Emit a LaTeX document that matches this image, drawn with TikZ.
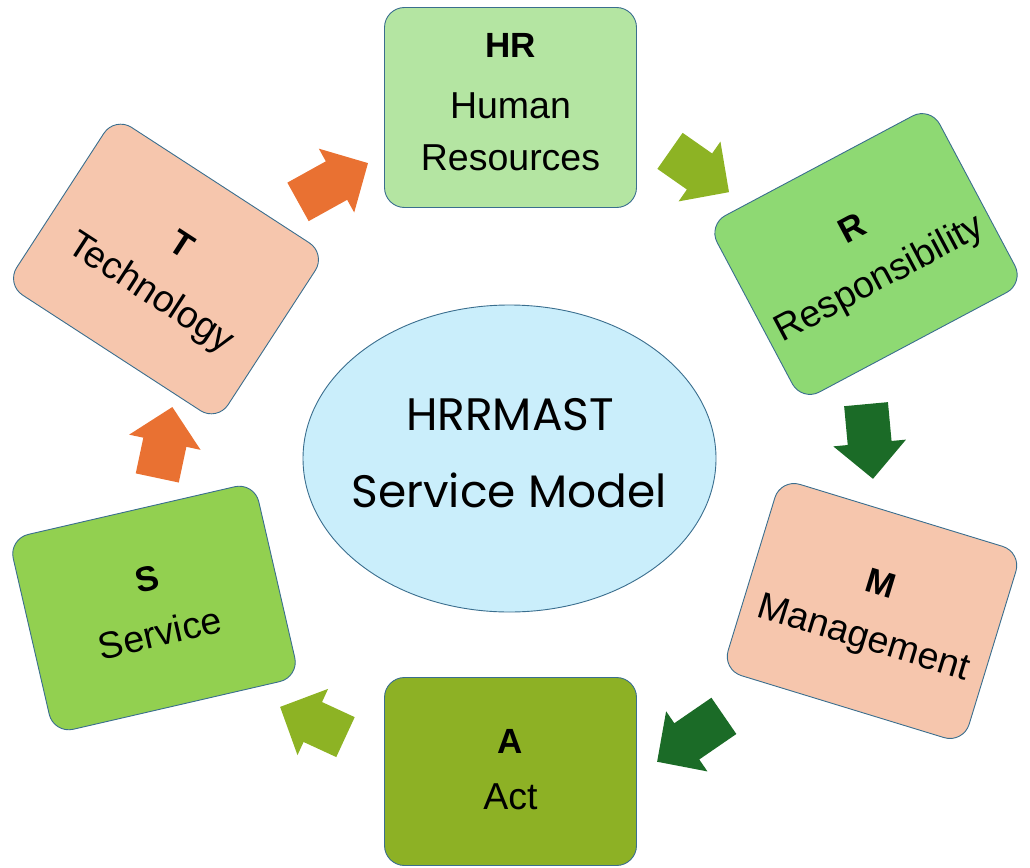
\documentclass[tikz,border=0pt]{standalone}
\usepackage{fontspec}
\setmainfont{Liberation Sans}
\newfontfamily\centerfont{Poppins}
\usetikzlibrary{shapes.geometric}
\definecolor{bordc}{HTML}{3A6E8E}
\definecolor{hrc}{HTML}{B4E5A2}
\definecolor{rc}{HTML}{8ED973}
\definecolor{peach}{HTML}{F6C6AD}
\definecolor{ac}{HTML}{8DB125}
\definecolor{sc}{HTML}{92D050}
\definecolor{ellc}{HTML}{CAEEFB}
\definecolor{orA}{HTML}{E97132}
\definecolor{olA}{HTML}{8DB324}
\definecolor{dgA}{HTML}{1B6B27}
\begin{document}
\begin{tikzpicture}[x=1pt,y=-1pt,
  box/.style={draw=bordc, line width=0.9pt, rounded corners=20pt, minimum width=252pt, minimum height=200pt, inner sep=0pt, transform shape},
  ttl/.style={font=\fontsize{35}{40}\selectfont\bfseries, anchor=base, inner sep=0pt, transform shape},
  wrd/.style={font=\fontsize{37.5}{42}\selectfont, anchor=base, inner sep=0pt, transform shape},
  ctext/.style={font=\centerfont\fontsize{45.5}{50}\selectfont, anchor=base, inner sep=0pt},
  pics/barrow/.style={code={
    \fill ({-#1/2},-22) -- ({#1/2-36},-22) -- ({#1/2-36},-36.5) -- ({#1/2},0)
      -- ({#1/2-36},36.5) -- ({#1/2-36},22) -- ({-#1/2},22) -- cycle;}}
]
\useasboundingbox (0,0) rectangle (1030,867);

% centre ellipse
\node[ellipse, draw=bordc, line width=0.9pt, fill=ellc, minimum width=413pt, minimum height=307pt, inner sep=0pt] (C) at (509.5,458.5) {};
\node[ctext] (C1) at (510,430) {HRRMAST};
\node[ctext] (C2) at (509,507) {Service Model};

% HR
\node[box, fill=hrc] (HR) at (510.5,107.5) {};
\node[ttl] (HRt) at (510.5,58) {HR};
\node[wrd] (HRw1) at (510.5,118) {Human};
\node[wrd] (HRw2) at (510.5,170) {Resources};

% R
\begin{scope}[shift={(866,254)}, rotate=28]
\node[box, fill=rc] (R) at (0,0) {};
\node[ttl] (Rt) at (0,-17.5) {R};
\node[wrd] (Rw) at (0,39) {Responsibility};
\end{scope}

% M
\begin{scope}[shift={(872,611)}, rotate=-17]
\node[box, fill=peach] (M) at (0,0) {};
\node[ttl] (Mt) at (0,-17.5) {M};
\node[wrd] (Mw) at (0,39) {Management};
\end{scope}

% A
\node[box, fill=ac, minimum height=188pt] (A) at (510.5,771.5) {};
\node[ttl] (At) at (510.5,753) {A};
\node[wrd] (Aw) at (510.5,809) {Act};

% S
\begin{scope}[shift={(154,608)}, rotate=13]
\node[box, fill=sc] (S) at (0,0) {};
\node[ttl] (St) at (0,-17.5) {S};
\node[wrd] (Sw) at (0,39) {Service};
\end{scope}

% T
\begin{scope}[shift={(166,269)}, rotate=-33]
\node[box, fill=peach] (T) at (0,0) {};
\node[ttl] (Tt) at (0,-17.5) {T};
\node[wrd] (Tw) at (0,39) {Technology};
\end{scope}

% block arrows
\pic[color=orA, rotate=29] at (333,182.5) {barrow=80};
\pic[color=olA, rotate=-35] at (699.5,171.5) {barrow=72};
\pic[color=dgA, rotate=-84.7] at (869.5,441.5) {barrow=75};
\pic[color=dgA, rotate=-145.5] at (690.5,738.8) {barrow=81};
\pic[color=olA, rotate=155.2] at (312.8,722) {barrow=72};
\pic[color=orA, rotate=78] at (164.8,442.5) {barrow=72.5};
\end{tikzpicture}
\end{document}
